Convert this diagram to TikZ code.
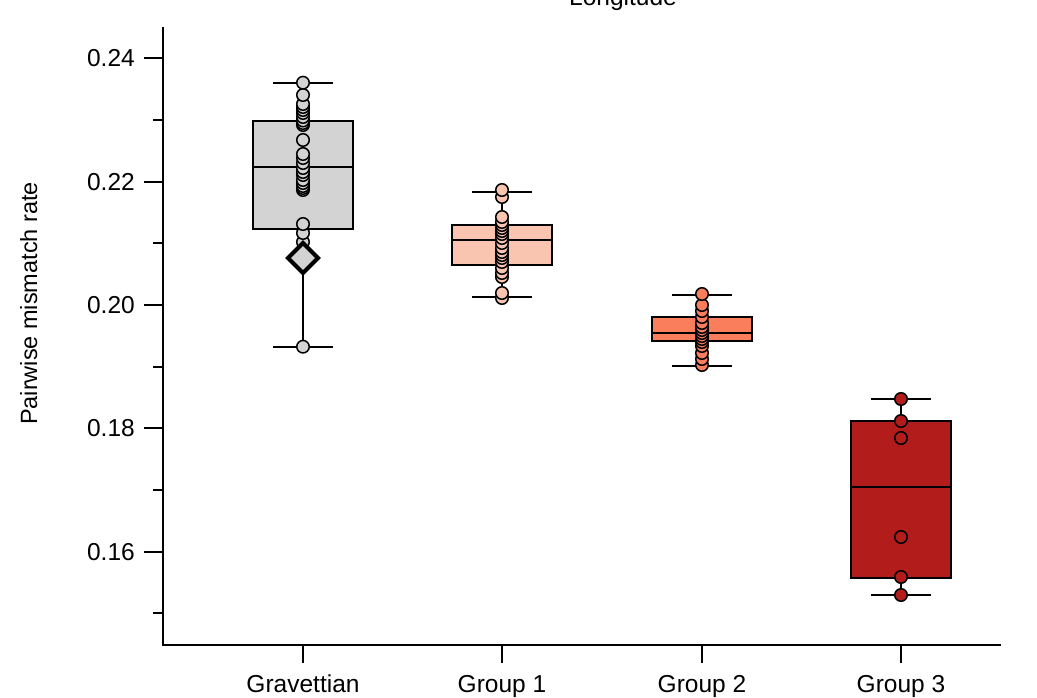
\documentclass[tikz,border=0pt]{standalone}
\usepackage{fontspec}
\setmainfont{Liberation Sans}
\definecolor{cgrav}{RGB}{211,211,211}
\definecolor{cgone}{RGB}{250,197,176}
\definecolor{cgtwo}{RGB}{250,125,92}
\definecolor{cgthree}{RGB}{178,29,27}
\begin{document}
\begin{tikzpicture}[x=1pt,y=-1pt,
  axisline/.style={line width=2pt,line cap=rect},
  tickline/.style={line width=2pt},
  boxshape/.style={draw=black,line width=2pt},
  medline/.style={line width=1.8pt},
  whisk/.style={line width=1.7pt},
  dotpt/.style={circle,draw=black,line width=1.5pt,minimum size=12.5pt,inner sep=0pt},
  lab/.style={font=\fontsize{24.5}{28}\selectfont,inner sep=0pt}]
\useasboundingbox (0,0) rectangle (1037,697);
\clip (0,0) rectangle (1037,697);
% title (cut off)
\node[lab,anchor=base] (title) at (623,5) {Longitude};
% axes
\coordinate (atop) at (163,28);
\coordinate (aorig) at (163,645);
\coordinate (aright) at (1000,645);
\draw[axisline] (atop) -- (aorig) -- (aright);
% y ticks
\foreach \yy/\tl [count=\i] in {58.3/0.24,181.7/0.22,305/0.20,428.3/0.18,551.7/0.16}{
  \coordinate (ytA\i) at (144,\yy);
  \coordinate (ytB\i) at (163,\yy);
  \draw[tickline] (ytA\i) -- (ytB\i);
  \node[lab,anchor=base east] (ylab\i) at (135,\yy+8.6) {\tl};
}
\foreach \yy [count=\i] in {120,243.3,366.7,490,613.3}{
  \coordinate (ymA\i) at (153,\yy);
  \coordinate (ymB\i) at (163,\yy);
  \draw[tickline] (ymA\i) -- (ymB\i);
}
% x ticks and labels
\foreach \xx/\tl [count=\i] in {303/Gravettian,502/Group 1,702/Group 2,901/Group 3}{
  \coordinate (xtA\i) at (\xx,645);
  \coordinate (xtB\i) at (\xx,663);
  \draw[tickline] (xtA\i) -- (xtB\i);
  \node[lab,anchor=base] (xlab\i) at (\xx,692) {\tl};
}
% y label
\node[font=\fontsize{23.5}{28}\selectfont,inner sep=0pt,rotate=90,anchor=base] (ylabel) at (37,303.5) {Pairwise mismatch rate};
% boxplots: center/left/right/q1/q3/median/wlo/whi/color
\foreach \cx/\ql/\qh/\md/\wl/\wh/\cc [count=\i] in {
  303/121/229/167/82.7/346.7/cgrav,
  502/225/265/240/192/297/cgone,
  702/317/341/333/295/366/cgtwo,
  901/421/578/487/399/595/cgthree}{
  \coordinate (wt\i) at (\cx,\wl);
  \coordinate (wb\i) at (\cx,\wh);
  \coordinate (bt\i) at (\cx,\ql);
  \coordinate (bb\i) at (\cx,\qh);
  \draw[whisk] (wt\i) -- (bt\i);
  \draw[whisk] (bb\i) -- (wb\i);
  \draw[whisk] ([xshift=-30pt]wt\i) -- ([xshift=30pt]wt\i);
  \draw[whisk] ([xshift=-30pt]wb\i) -- ([xshift=30pt]wb\i);
  \draw[boxshape,fill=\cc] (\cx-50,\ql) rectangle (\cx+50,\qh);
  \draw[medline] (\cx-50,\md) -- (\cx+50,\md);
}
% points (drawn bottom to top)
\foreach \yy in {346.7,242,233,224,190,188,186,183,180,175,172,168,163,158,154,140,125,123,120.5,117,113,110,107,104,95,82.7}{
  \node[dotpt,fill=cgrav] at (303,\yy) {};
}
\foreach \yy in {298,293,277,273,268,262,258,255,252,248,243,238,234,231,228,225,222,217,197,190}{
  \node[dotpt,fill=cgone] at (502,\yy) {};
}
\foreach \yy in {365,359,353,346,342,339,336,333,330,327,323,317,311,305,294}{
  \node[dotpt,fill=cgtwo] at (702,\yy) {};
}
\foreach \yy in {595,577,537,438,421,399}{
  \node[dotpt,fill=cgthree] at (901,\yy) {};
}
% diamond (mean marker)
\coordinate (dm) at (303,258);
\draw[line width=4pt,line join=miter,fill=cgrav] ([yshift=-15pt]dm) -- ([xshift=15pt]dm) -- ([yshift=15pt]dm) -- ([xshift=-15pt]dm) -- cycle;
\end{tikzpicture}
\end{document}
